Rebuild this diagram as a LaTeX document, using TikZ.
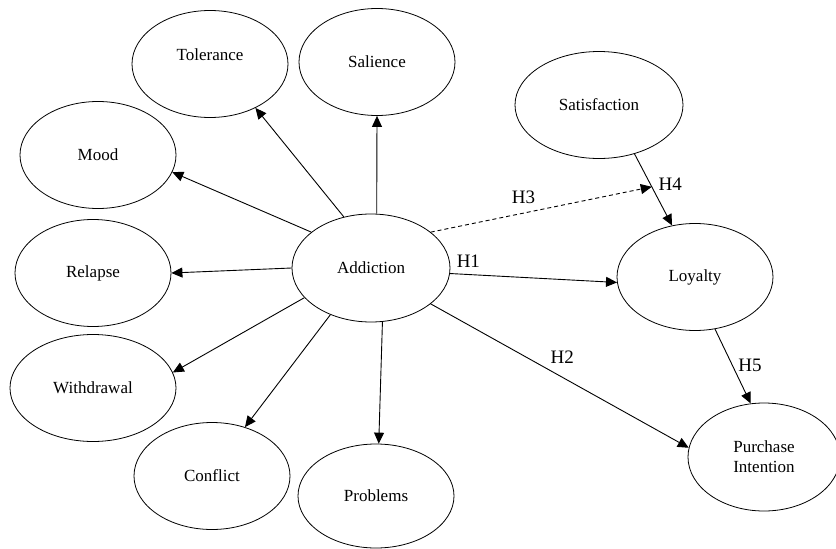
\documentclass[tikz,border=0pt]{standalone}
\usepackage{fontspec}
\setmainfont{Liberation Serif}
\usetikzlibrary{shapes.geometric,arrows.meta}
\begin{document}
\begin{tikzpicture}[x=1pt,y=-1pt,
  cst/.style={draw, ellipse, line width=0.8pt, minimum width=156pt, minimum height=107pt,
    inner sep=0pt, font=\fontsize{17}{20}\selectfont, align=center},
  arr/.style={-{Triangle[length=11pt,width=10pt]}, line width=0.9pt},
  hlab/.style={font=\fontsize{19}{22}\selectfont, inner sep=1pt}]
\useasboundingbox (0,0) rectangle (836,549);
\clip (0,0) rectangle (836,549);

\node[cst, text depth=18pt] (tol) at (210,64) {Tolerance};
\node[cst] (sal) at (377,62) {Salience};
\node[cst] (mood) at (98,155) {Mood};
\node[cst, minimum width=158pt, minimum height=108pt] (add) at (371,268) {Addiction};
\node[cst] (rel) at (93,273) {Relapse};
\node[cst, minimum width=166pt] (wd) at (93,388) {Withdrawal};
\node[cst] (con) at (212,476) {Conflict};
\node[cst, minimum height=104pt] (prob) at (376,496) {Problems};
\node[cst, minimum width=168pt] (sat) at (599,105) {Satisfaction};
\node[cst] (loy) at (695,277) {Loyalty};
\node[cst, minimum width=152pt, minimum height=108pt] (pi) at (764,457) {Purchase\\Intention};

\draw[arr] (add.118) -- (tol.-44);
\draw[arr] (add.84) -- (sal.270);
\draw[arr] (add.149) -- (mood.-13);
\draw[arr] (add.west) -- (rel.east);
\draw[arr] (add.204) -- (wd.11);
\draw[arr] (add.229) -- (con.56);
\draw[arr] (add.282) -- (prob.87);
\draw[arr] (add.-4) -- node[hlab, pos=0.11, above=6pt] {H1} (loy.184);
\draw[arr] (add.-31) -- node[hlab, pos=0.51, above=12pt] {H2} (pi.173);
\draw[arr] (sat.-54) -- coordinate[pos=0.46] (mod) node[hlab, pos=0.42, right=7pt] {H4} (loy.114);
\draw[arr, dash pattern=on 4pt off 3pt] (add.31) -- node[hlab, pos=0.42, above=8pt] {H3} (mod);
\draw[arr] (loy.-69) -- node[hlab, pos=0.49, right=4.5pt] {H5} (pi.104);
\end{tikzpicture}
\end{document}
